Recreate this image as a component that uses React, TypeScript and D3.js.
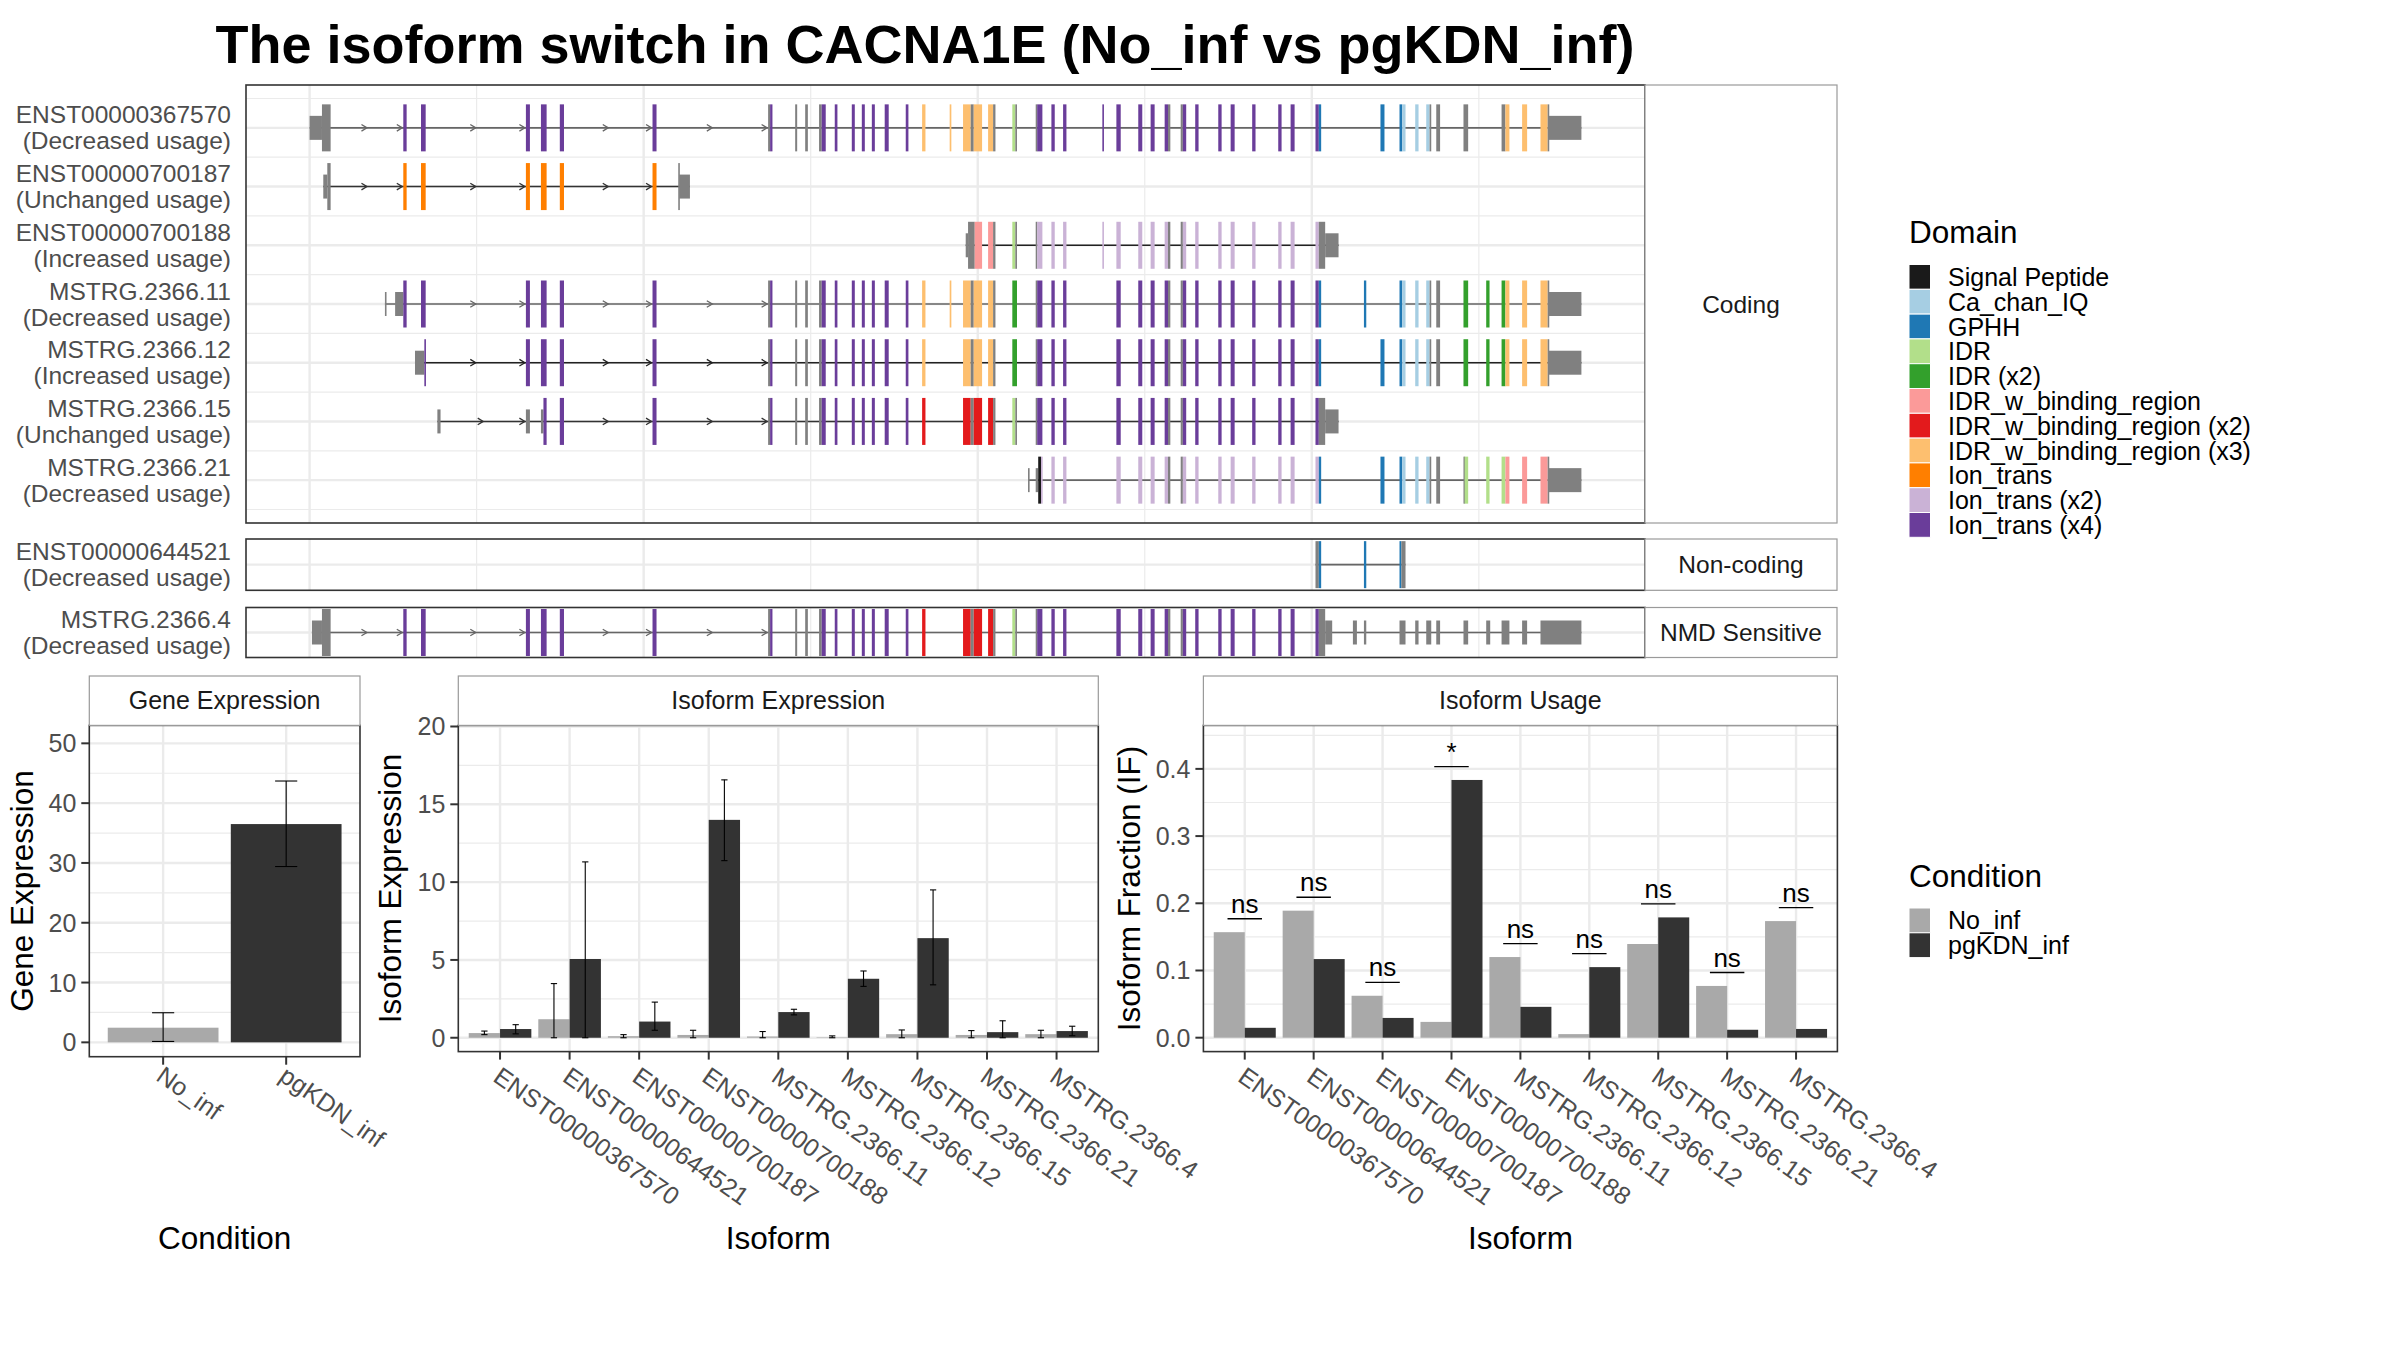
import * as d3 from "d3";

const FONT = "'Liberation Sans', Arial, Helvetica, sans-serif";

type Seg = [number, number, string];

// ---------------- legend / domain palette ----------------
const DOMAIN_KEYS = ["SP", "IQ", "GP", "I1", "I2", "B1", "B2", "B3", "T1", "T2", "T4"];
const DOMAIN_NAMES = [
  "Signal Peptide",
  "Ca_chan_IQ",
  "GPHH",
  "IDR",
  "IDR (x2)",
  "IDR_w_binding_region",
  "IDR_w_binding_region (x2)",
  "IDR_w_binding_region (x3)",
  "Ion_trans",
  "Ion_trans (x2)",
  "Ion_trans (x4)",
];
const DOMAIN_PALETTE = [
  "#1A1A1A", "#A6CEE3", "#1F78B4", "#B2DF8A", "#33A02C", "#FB9A99",
  "#E31A1C", "#FDBF6F", "#FF7F00", "#CAB2D6", "#6A3D9A",
];
const EXON_GREY = "#808080";

// ---------------- transcript structures ----------------
// genomic units (0 = leftmost exon start). "U" = UTR, "C" = coding w/o domain
const EX_FRONT: Seg[] = [
  [56.1, 58.1, "T4"], [66.7, 69.5, "T4"], [129.5, 131.9, "T4"],
  [138.5, 141.9, "T4"], [149.8, 152.3, "T4"], [205.3, 207.7, "T4"],
];
const EX_CORE: Seg[] = [
  [274.5, 275.7, "C"], [275.7, 277.1, "T4"], [290.7, 291.9, "C"], [296.7, 298.3, "C"],
  [305, 306.6, "C"], [306.6, 309, "T4"], [314.4, 316, "T4"], [324.6, 326.4, "T4"],
  [330.6, 332.4, "T4"], [336.6, 338.4, "T4"], [344.3, 346.7, "T4"], [356.9, 358.5, "T4"],
];
const EX_BIND: Seg[] = [
  [366.7, 368.7, "B3"], [391.2, 395.8, "B3"], [395.8, 397.6, "C"], [397.6, 402.6, "B3"],
  [406.2, 409.2, "B3"], [409.2, 410.6, "C"],
];
const EX_ION_A: Seg[] = [
  [434.7, 435.6, "C"], [435.6, 438.7, "T4"], [444.1, 446.1, "T4"], [451.1, 453.1, "T4"],
];
const EX_ION_B: Seg[] = [
  [483, 485.6, "T4"], [496.1, 498.5, "T4"], [503.5, 505.9, "T4"], [511.9, 513.9, "T4"],
  [513.9, 515.3, "C"], [521.5, 522.8, "C"], [522.8, 524.8, "T4"], [530.2, 532.2, "T4"],
  [544, 546, "T4"], [551.4, 553.8, "T4"], [564.3, 566.3, "T4"], [579.9, 581.9, "T4"],
  [587.3, 589.7, "T4"],
];
const EX_CA: Seg[] = [
  [652.5, 654.1, "GP"], [654.1, 656.1, "IQ"], [661.9, 663.9, "IQ"], [668.5, 670.5, "IQ"],
  [670.5, 671.5, "C"], [674.5, 676.8, "C"],
];
const EX_END: Seg[] = [
  [715.9, 718.3, "B3"], [725.9, 728.9, "B3"], [736.9, 741.2, "B3"], [741.2, 741.7, "C"],
  [741.7, 761.4, "U"],
];
const NMD_TAIL: Seg[] = [
  [608, 612.2, "U"], [624.6, 627, "U"], [631.2, 632.6, "U"], [652.5, 656.1, "U"],
  [661.9, 663.9, "U"], [668.5, 671.5, "U"], [674.5, 676.8, "U"], [690.8, 693.6, "U"],
  [704.4, 706.8, "U"], [713.6, 718.3, "U"], [725.9, 728.9, "U"], [736.9, 761.4, "U"],
];

const recolor = (segs: Seg[], from: string, to: string): Seg[] =>
  segs.map(([a, b, k]) => [a, b, k === from ? to : k] as Seg);

const TX_367570: Seg[] = [
  [0, 7.4, "U"], [7.4, 12.6, "C"], ...EX_FRONT, ...EX_CORE, ...EX_BIND, [383.2, 384.2, "B3"],
  [420.7, 422.5, "I1"], [422.5, 423.5, "C"], ...EX_ION_A, [474.6, 475.4, "T4"], ...EX_ION_B,
  [602.2, 604.2, "T4"], [604.2, 605.6, "GP"], [641.1, 643.5, "GP"], ...EX_CA,
  [690.8, 693.6, "C"], [713.6, 715.9, "C"], ...EX_END,
];
const TX_700187: Seg[] = [
  [8.2, 10.6, "U"], [10.6, 12.6, "C"], ...recolor(EX_FRONT, "T4", "T1"),
  [220.7, 221.3, "C"], [221.3, 227.7, "U"],
];
const TX_700188: Seg[] = [
  [392.8, 394.2, "U"], [394.2, 398.2, "C"], [398.2, 402.6, "B1"], [406.2, 409.2, "B1"],
  [409.2, 410.6, "C"], [420.7, 422.5, "I1"], [422.5, 423.5, "C"],
  ...recolor(EX_ION_A, "T4", "T2"), [474.6, 475.4, "T2"], ...recolor(EX_ION_B, "T4", "T2"),
  [602.2, 604.2, "T2"], [604.2, 608, "C"], [608, 616, "U"],
];
const TX_2366_11: Seg[] = [
  [45.1, 45.7, "U"], [51.2, 56.1, "U"], ...EX_FRONT, ...EX_CORE, ...EX_BIND, [383.2, 384.2, "B3"],
  [420.7, 423.5, "I2"], ...EX_ION_A, ...EX_ION_B, [602.2, 604.2, "T4"], [604.2, 605.6, "GP"],
  [631.2, 632.6, "GP"], ...EX_CA, [690.8, 693.6, "I2"], [704.4, 706.4, "I2"],
  [713.6, 715.9, "I2"], ...EX_END,
];
const TX_2366_12: Seg[] = [
  [63.1, 68.7, "U"], [68.7, 69.5, "T4"], ...EX_FRONT.slice(2), ...EX_CORE, ...EX_BIND,
  [420.7, 423.5, "I2"], ...EX_ION_A, ...EX_ION_B, [602.2, 604.2, "T4"], [604.2, 605.6, "GP"],
  [641.1, 643.5, "GP"], ...EX_CA, [690.8, 693.6, "I2"], [704.4, 706.4, "I2"],
  [713.6, 715.9, "I2"], ...EX_END,
];
const TX_2366_15: Seg[] = [
  [76.5, 78.4, "U"], [129.5, 131.9, "U"], [138.5, 140, "U"], [140, 141.9, "T4"],
  [149.8, 152.3, "T4"], [205.3, 207.7, "T4"], ...EX_CORE, ...recolor(EX_BIND, "B3", "B2"),
  [420.7, 422.5, "I1"], [422.5, 423.5, "C"], ...EX_ION_A, ...EX_ION_B,
  [602.2, 604.2, "T4"], [604.2, 608, "C"], [608, 616, "U"],
];
const TX_2366_21: Seg[] = [
  [430.1, 430.7, "U"], [434.7, 436.2, "U"], [436.2, 437.9, "SP"], [437.9, 438.7, "T2"],
  [444.1, 446.1, "T2"], [451.1, 453.1, "T2"], ...recolor(EX_ION_B, "T4", "T2"),
  [602.2, 604.2, "T2"], [604.2, 605.6, "GP"], [641.1, 643.5, "GP"], ...EX_CA,
  [690.8, 691.5, "C"], [691.5, 693.6, "I1"], [704.4, 706.4, "I1"], [713.6, 715.9, "I1"],
  ...recolor(EX_END, "B3", "B1"),
];
const TX_644521: Seg[] = [
  [602.2, 604.2, "C"], [604.2, 605.6, "GP"], [631.2, 632.6, "GP"], [652.5, 653.6, "GP"],
  [653.6, 656.1, "C"],
];
const TX_2366_4: Seg[] = [
  [1.4, 7.4, "U"], [7.4, 12.6, "C"], ...EX_FRONT, ...EX_CORE, ...recolor(EX_BIND, "B3", "B2"),
  [420.7, 422.5, "I1"], [422.5, 423.5, "C"], ...EX_ION_A, ...EX_ION_B,
  [602.2, 604.2, "T4"], [604.2, 608, "C"], ...NMD_TAIL,
];

const GROUPS = ["Coding", "Non-coding", "NMD Sensitive"];
const TRANSCRIPTS = [
  { id: "ENST00000367570", usage: "Decreased", group: "Coding", segs: TX_367570 },
  { id: "ENST00000700187", usage: "Unchanged", group: "Coding", segs: TX_700187 },
  { id: "ENST00000700188", usage: "Increased", group: "Coding", segs: TX_700188 },
  { id: "MSTRG.2366.11", usage: "Decreased", group: "Coding", segs: TX_2366_11 },
  { id: "MSTRG.2366.12", usage: "Increased", group: "Coding", segs: TX_2366_12 },
  { id: "MSTRG.2366.15", usage: "Unchanged", group: "Coding", segs: TX_2366_15 },
  { id: "MSTRG.2366.21", usage: "Decreased", group: "Coding", segs: TX_2366_21 },
  { id: "ENST00000644521", usage: "Decreased", group: "Non-coding", segs: TX_644521 },
  { id: "MSTRG.2366.4", usage: "Decreased", group: "NMD Sensitive", segs: TX_2366_4 },
];

// ---------------- expression data ----------------
const CONDITIONS = ["No_inf", "pgKDN_inf"];
const GENE_EXPR = [2.45, 36.5];
const GENE_LO = [0.15, 29.4];
const GENE_HI = [4.95, 43.7];

const ISOFORMS = [
  "ENST00000367570", "ENST00000644521", "ENST00000700187", "ENST00000700188",
  "MSTRG.2366.11", "MSTRG.2366.12", "MSTRG.2366.15", "MSTRG.2366.21", "MSTRG.2366.4",
];
const ISO_NO = [0.3, 1.19, 0.1, 0.18, 0.08, 0.03, 0.23, 0.18, 0.23];
const ISO_NO_LO = [0.2, 0, 0, 0, 0, 0, 0, 0, 0];
const ISO_NO_HI = [0.43, 3.48, 0.2, 0.48, 0.4, 0.12, 0.5, 0.46, 0.48];
const ISO_KDN = [0.56, 5.06, 1.04, 14.0, 1.65, 3.79, 6.4, 0.36, 0.43];
const ISO_KDN_LO = [0.25, 0, 0.48, 11.38, 1.47, 3.3, 3.4, 0, 0.13];
const ISO_KDN_HI = [0.84, 11.3, 2.29, 16.57, 1.83, 4.29, 9.5, 1.09, 0.74];

const IF_NO = [0.157, 0.189, 0.0624, 0.0235, 0.12, 0.0053, 0.1394, 0.077, 0.1735];
const IF_KDN = [0.0147, 0.117, 0.0294, 0.3835, 0.0459, 0.105, 0.179, 0.0118, 0.013];
const IF_SIG = ["ns", "ns", "ns", "*", "ns", "ns", "ns", "ns", "ns"];

const COND_COLORS = ["#A9A9A9", "#333333"];

// ---------------- layout ----------------
const TX_LEFT = 246;
const TX_RIGHT = 1645;
const STRIP_RIGHT = 1837;
const GROUP_TOP = [85, 539, 607.5];
const GROUP_BOTTOM = [523, 590.3, 657.5];
const CDS_HALF = 23.5;
const UTR_HALF = 12;
const USAGE_LINE: Record<string, string> = {
  Decreased: "#666666",
  Increased: "#222222",
  Unchanged: "#333333",
};

const STRIP_TOP = 676;
const STRIP_BOTTOM = 725.4;
const GRID = "#EBEBEB";
const BORDER = "#333333";
const STRIP_BORDER = "#9A9A9A";
const AXIS_TEXT = "#4D4D4D";

function blocksOf(segs: Seg[]) {
  const sorted = [...segs].sort((a, b) => a[0] - b[0]);
  const out: [number, number][] = [];
  sorted.forEach(([a, b]) => {
    const last = out[out.length - 1];
    if (last && a <= last[1] + 0.3) last[1] = Math.max(last[1], b);
    else out.push([a, b]);
  });
  return out;
}

function Chevron({ x, y, color }: { x: number; y: number; color: string }) {
  return (
    <path
      d={`M${x - 5.5},${y - 3.3}L${x},${y}L${x - 5.5},${y + 3.3}`}
      fill="none"
      stroke={color}
      strokeWidth={1.3}
    />
  );
}

function TranscriptPanels() {
  const allPos = TRANSCRIPTS.flatMap(t => t.segs.flatMap(s => [s[0], s[1]]));
  const [gMin, gMax] = d3.extent(allPos) as [number, number];
  const pad = (gMax - gMin) * 0.05;
  const gx = d3.scaleLinear().domain([gMin - pad, gMax + pad]).range([TX_LEFT, TX_RIGHT]);
  const majorX = d3.range(0, 800, 200);
  const minorX = d3.range(100, 800, 200);
  const colorOf = d3.scaleOrdinal<string, string>().domain(DOMAIN_KEYS).range(DOMAIN_PALETTE);

  const rowY = new Map<string, number>();
  const rowStep: number[] = [];
  GROUPS.forEach((g, gi) => {
    const ids = TRANSCRIPTS.filter(t => t.group === g).map(t => t.id);
    if (ids.length > 1) {
      const s = d3.scalePoint<string>().domain(ids).range([GROUP_TOP[gi], GROUP_BOTTOM[gi]]).padding(0.73);
      ids.forEach(id => rowY.set(id, s(id)!));
      rowStep[gi] = s.step();
    } else {
      rowY.set(ids[0], (GROUP_TOP[gi] + GROUP_BOTTOM[gi]) / 2);
      rowStep[gi] = 0;
    }
  });

  return (
    <g>
      {GROUPS.map((g, gi) => {
        const top = GROUP_TOP[gi];
        const bottom = GROUP_BOTTOM[gi];
        const rows = TRANSCRIPTS.filter(t => t.group === g);
        const ys = rows.map(t => rowY.get(t.id)!);
        const minorY = rowStep[gi] > 0 ? [...ys.map(y => y - rowStep[gi] / 2), ys[ys.length - 1] + rowStep[gi] / 2] : [];
        return (
          <g key={g}>
            <rect x={TX_LEFT} y={top} width={TX_RIGHT - TX_LEFT} height={bottom - top} fill="white" />
            {minorY.map((y, i) => (
              <line key={"my" + i} x1={TX_LEFT} x2={TX_RIGHT} y1={y} y2={y} stroke={GRID} strokeWidth={1.2} />
            ))}
            {ys.map((y, i) => (
              <line key={"y" + i} x1={TX_LEFT} x2={TX_RIGHT} y1={y} y2={y} stroke={GRID} strokeWidth={2.4} />
            ))}
            {minorX.map(v => (
              <line key={"mx" + v} x1={gx(v)} x2={gx(v)} y1={top} y2={bottom} stroke={GRID} strokeWidth={1.2} />
            ))}
            {majorX.map(v => (
              <line key={"x" + v} x1={gx(v)} x2={gx(v)} y1={top} y2={bottom} stroke={GRID} strokeWidth={2.4} />
            ))}
            {rows.map(t => {
              const y = rowY.get(t.id)!;
              const blocks = blocksOf(t.segs);
              const lineColor = USAGE_LINE[t.usage];
              const arrows: number[] = [];
              for (let i = 0; i < blocks.length - 1; i++) {
                const a = blocks[i][1];
                const b = blocks[i + 1][0];
                if (b - a > 40) arrows.push((a + b) / 2, b - 0.6);
              }
              return (
                <g key={t.id}>
                  <line
                    x1={gx(blocks[0][0])}
                    x2={gx(blocks[blocks.length - 1][1])}
                    y1={y}
                    y2={y}
                    stroke={lineColor}
                    strokeWidth={1.6}
                  />
                  {arrows.map((a, i) => (
                    <Chevron key={i} x={gx(a)} y={y} color={lineColor} />
                  ))}
                  {t.segs.map(([a, b, k], i) => {
                    const half = k === "U" ? UTR_HALF : CDS_HALF;
                    const fill = k === "U" || k === "C" ? EXON_GREY : colorOf(k);
                    const w = Math.max(gx(b) - gx(a), 1.6);
                    return <rect key={i} x={gx(a)} y={y - half} width={w} height={half * 2} fill={fill} />;
                  })}
                  <text x={231} y={y - 4.4} textAnchor="end" fontSize={24.5} fill={AXIS_TEXT}>
                    {t.id}
                  </text>
                  <text x={231} y={y + 21.6} textAnchor="end" fontSize={24.5} fill={AXIS_TEXT}>
                    {`(${t.usage} usage)`}
                  </text>
                </g>
              );
            })}
            <rect
              x={TX_LEFT}
              y={top}
              width={TX_RIGHT - TX_LEFT}
              height={bottom - top}
              fill="none"
              stroke={BORDER}
              strokeWidth={1.6}
            />
            <rect
              x={TX_RIGHT}
              y={top}
              width={STRIP_RIGHT - TX_RIGHT}
              height={bottom - top}
              fill="white"
              stroke={STRIP_BORDER}
              strokeWidth={1.2}
            />
            <text
              x={(TX_RIGHT + STRIP_RIGHT) / 2}
              y={(top + bottom) / 2}
              dy="0.35em"
              textAnchor="middle"
              fontSize={24.5}
              fill="#1A1A1A"
            >
              {g}
            </text>
          </g>
        );
      })}
    </g>
  );
}

type BarPanelProps = {
  title: string;
  cats: string[];
  x0: number;
  x1: number;
  bottom: number;
  labelGap: number;
  yDomain: [number, number];
  major: number[];
  minor: number[];
  fmt: (v: number) => string;
  values: number[][];
  lo?: number[][];
  hi?: number[][];
  colorByCat?: boolean;
  yTitle: string;
  yTitleX: number;
  xTitle: string;
  sig?: string[];
};

function BarPanel(p: BarPanelProps) {
  const x = d3.scalePoint<string>().domain(p.cats).range([p.x0, p.x1]).padding(0.6);
  const step = x.step();
  const y = d3.scaleLinear().domain(p.yDomain).range([p.bottom, STRIP_BOTTOM]);
  const groupW = step * 0.9;
  const nSer = p.values.length;
  const barW = groupW / nSer;

  const bars: { x: number; w: number; v: number; lo?: number; hi?: number; color: string; key: string }[] = [];
  p.values.forEach((vals, si) =>
    p.cats.forEach((c, i) => {
      bars.push({
        x: x(c)! - groupW / 2 + si * barW,
        w: barW,
        v: vals[i],
        lo: p.lo ? p.lo[si][i] : undefined,
        hi: p.hi ? p.hi[si][i] : undefined,
        color: p.colorByCat ? COND_COLORS[i] : COND_COLORS[si],
        key: `${si}-${c}`,
      });
    })
  );

  const cy = (STRIP_BOTTOM + p.bottom) / 2;
  const cx = (p.x0 + p.x1) / 2;

  return (
    <g>
      <rect x={p.x0} y={STRIP_BOTTOM} width={p.x1 - p.x0} height={p.bottom - STRIP_BOTTOM} fill="white" />
      {p.minor.map(v => (
        <line key={"m" + v} x1={p.x0} x2={p.x1} y1={y(v)} y2={y(v)} stroke={GRID} strokeWidth={1.2} />
      ))}
      {p.major.map(v => (
        <line key={"M" + v} x1={p.x0} x2={p.x1} y1={y(v)} y2={y(v)} stroke={GRID} strokeWidth={2.4} />
      ))}
      {p.cats.map(c => (
        <line key={"v" + c} x1={x(c)} x2={x(c)} y1={STRIP_BOTTOM} y2={p.bottom} stroke={GRID} strokeWidth={2.4} />
      ))}
      {bars.map(b => (
        <rect key={b.key} x={b.x} y={y(Math.max(b.v, 0))} width={b.w} height={y(0) - y(Math.max(b.v, 0))} fill={b.color} />
      ))}
      {bars.map(b => {
        if (b.lo === undefined || b.hi === undefined) return null;
        const mx = b.x + b.w / 2;
        const cap = b.w * 0.2;
        return (
          <g key={"e" + b.key} stroke="black" strokeWidth={1.1}>
            <line x1={mx} x2={mx} y1={y(b.lo)} y2={y(b.hi)} />
            <line x1={mx - cap / 2} x2={mx + cap / 2} y1={y(b.hi)} y2={y(b.hi)} />
            <line x1={mx - cap / 2} x2={mx + cap / 2} y1={y(b.lo)} y2={y(b.lo)} />
          </g>
        );
      })}
      {p.sig &&
        p.cats.map((c, i) => {
          const top = Math.max(...p.values.map(v => v[i])) + 0.02;
          return (
            <g key={"s" + c}>
              <line x1={x(c)! - step / 4} x2={x(c)! + step / 4} y1={y(top)} y2={y(top)} stroke="black" strokeWidth={1.3} />
              <text x={x(c)} y={y(top) - 6} textAnchor="middle" fontSize={26} fill="black">
                {p.sig![i]}
              </text>
            </g>
          );
        })}
      <rect
        x={p.x0}
        y={STRIP_BOTTOM}
        width={p.x1 - p.x0}
        height={p.bottom - STRIP_BOTTOM}
        fill="none"
        stroke={BORDER}
        strokeWidth={1.6}
      />
      {/* strip */}
      <rect
        x={p.x0}
        y={STRIP_TOP}
        width={p.x1 - p.x0}
        height={STRIP_BOTTOM - STRIP_TOP}
        fill="white"
        stroke={STRIP_BORDER}
        strokeWidth={1.2}
      />
      <text x={cx} y={(STRIP_TOP + STRIP_BOTTOM) / 2} dy="0.35em" textAnchor="middle" fontSize={25} fill="#1A1A1A">
        {p.title}
      </text>
      {/* y axis */}
      {p.major.map(v => (
        <g key={"t" + v}>
          <line x1={p.x0 - 8} x2={p.x0} y1={y(v)} y2={y(v)} stroke={BORDER} strokeWidth={2} />
          <text x={p.x0 - 13} y={y(v)} dy="0.36em" textAnchor="end" fontSize={25} fill={AXIS_TEXT}>
            {p.fmt(v)}
          </text>
        </g>
      ))}
      {/* x axis */}
      {p.cats.map(c => (
        <g key={"xt" + c}>
          <line x1={x(c)} x2={x(c)} y1={p.bottom} y2={p.bottom + 8} stroke={BORDER} strokeWidth={2} />
          <text
            transform={`translate(${x(c)! + 2},${p.bottom + p.labelGap}) rotate(35)`}
            dy="0.72em"
            textAnchor="start"
            fontSize={25}
            fill={AXIS_TEXT}
          >
            {c}
          </text>
        </g>
      ))}
      <text x={cx} y={1249} textAnchor="middle" fontSize={31.5} fill="black">
        {p.xTitle}
      </text>
      <text
        transform={`translate(${p.yTitleX},${cy}) rotate(-90)`}
        textAnchor="middle"
        fontSize={31.5}
        fill="black"
      >
        {p.yTitle}
      </text>
    </g>
  );
}

function Legends() {
  const keyX = 1909;
  const keyW = 21.5;
  const keyH = 24.8;
  const labelX = 1948;
  const domTop = 264.5;
  const condTop = 908;
  return (
    <g>
      <text x={keyX} y={242.6} fontSize={31.5} fill="black">
        Domain
      </text>
      {DOMAIN_NAMES.map((n, i) => (
        <g key={n}>
          <rect x={keyX} y={domTop + i * keyH} width={keyW} height={keyH} fill={DOMAIN_PALETTE[i]} stroke="white" strokeWidth={1} />
          <text x={labelX} y={domTop + (i + 0.5) * keyH} dy="0.36em" fontSize={25} fill="black">
            {n}
          </text>
        </g>
      ))}
      <text x={keyX} y={887} fontSize={31.5} fill="black">
        Condition
      </text>
      {CONDITIONS.map((c, i) => (
        <g key={c}>
          <rect x={keyX} y={condTop + i * keyH} width={keyW} height={keyH} fill={COND_COLORS[i]} stroke="white" strokeWidth={1} />
          <text x={labelX} y={condTop + (i + 0.5) * keyH} dy="0.36em" fontSize={25} fill="black">
            {c}
          </text>
        </g>
      ))}
    </g>
  );
}

export default function App() {
  return (
    <svg
      width={2400}
      height={1350}
      style={{ position: "absolute", left: 0, top: 0, background: "white" }}
      fontFamily={FONT}
    >
      <rect x={0} y={0} width={2400} height={1350} fill="white" />
      <text x={925} y={63} textAnchor="middle" fontSize={54} fontWeight="bold" fill="black">
        The isoform switch in CACNA1E (No_inf vs pgKDN_inf)
      </text>
      <TranscriptPanels />
      <BarPanel
        title="Gene Expression"
        cats={CONDITIONS}
        x0={89.3}
        x1={360}
        bottom={1056.7}
        labelGap={8}
        yDomain={[-2.4, 53.0]}
        major={d3.range(0, 51, 10)}
        minor={d3.range(5, 51, 10)}
        fmt={v => String(v)}
        values={[GENE_EXPR]}
        lo={[GENE_LO]}
        hi={[GENE_HI]}
        colorByCat
        yTitle="Gene Expression"
        yTitleX={33}
        xTitle="Condition"
      />
      <BarPanel
        title="Isoform Expression"
        cats={ISOFORMS}
        x0={458.3}
        x1={1098.3}
        bottom={1051.6}
        labelGap={14}
        yDomain={[-0.89, 20.07]}
        major={d3.range(0, 21, 5)}
        minor={d3.range(2.5, 20, 5)}
        fmt={v => String(v)}
        values={[ISO_NO, ISO_KDN]}
        lo={[ISO_NO_LO, ISO_KDN_LO]}
        hi={[ISO_NO_HI, ISO_KDN_HI]}
        yTitle="Isoform Expression"
        yTitleX={401}
        xTitle="Isoform"
      />
      <BarPanel
        title="Isoform Usage"
        cats={ISOFORMS}
        x0={1203.4}
        x1={1837.4}
        bottom={1051.6}
        labelGap={14}
        yDomain={[-0.0207, 0.4647]}
        major={[0, 0.1, 0.2, 0.3, 0.4]}
        minor={[0.05, 0.15, 0.25, 0.35, 0.45]}
        fmt={v => v.toFixed(1)}
        values={[IF_NO, IF_KDN]}
        yTitle="Isoform Fraction (IF)"
        yTitleX={1140}
        xTitle="Isoform"
        sig={IF_SIG}
      />
      <Legends />
    </svg>
  );
}
